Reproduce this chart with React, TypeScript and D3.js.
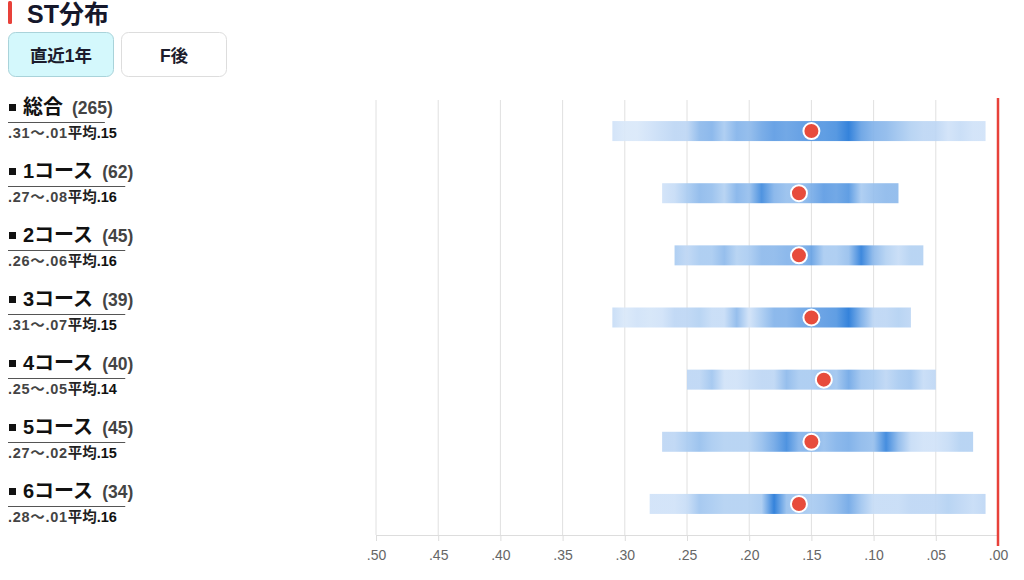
import React, { useEffect, useRef } from "react";
import * as d3 from "d3";

const courseNames = ["総合", "1コース", "2コース", "3コース", "4コース", "5コース", "6コース"];
const courseCounts = [265, 62, 45, 39, 40, 45, 34];
const stSlowest = [0.31, 0.27, 0.26, 0.31, 0.25, 0.27, 0.28];
const stFastest = [0.01, 0.08, 0.06, 0.07, 0.05, 0.02, 0.01];
const stAverage = [0.15, 0.16, 0.16, 0.15, 0.14, 0.15, 0.16];

// relative density per 0.01 step, from slowest to fastest
const densityAll = [0.1, 0.05, 0.05, 0.1, 0.15, 0.2, 0.2, 0.45, 0.5, 0.3, 0.5, 0.45, 0.6, 0.7, 0.65, 0.7, 0.75, 0.75, 0.8, 1.0, 0.65, 0.5, 0.45, 0.35, 0.25, 0.2, 0.2, 0.1, 0.15, 0.1, 0.1];
const density1 = [0.1, 0.15, 0.3, 0.45, 0.4, 0.25, 0.5, 0.4, 0.85, 0.5, 0.4, 0.4, 0.55, 0.7, 0.65, 0.75, 0.3, 0.4, 0.45, 0.45];
const density2 = [0.3, 0.2, 0.3, 0.3, 0.45, 0.25, 0.3, 0.45, 0.45, 0.5, 0.5, 0.65, 0.3, 0.3, 0.4, 0.95, 0.45, 0.25, 0.15, 0.25, 0.25];
const density3 = [0.15, 0.05, 0.1, 0.08, 0.1, 0.2, 0.2, 0.25, 0.15, 0.15, 0.45, 0.1, 0.3, 0.5, 0.5, 0.6, 0.65, 0.7, 0.75, 1.0, 0.55, 0.2, 0.2, 0.25, 0.2];
const density4 = [0.2, 0.2, 0.35, 0.1, 0.1, 0.15, 0.2, 0.2, 0.45, 0.3, 0.3, 0.4, 0.35, 0.6, 0.35, 0.3, 0.2, 0.3, 0.35, 0.15, 0.2];
const density5 = [0.2, 0.2, 0.3, 0.4, 0.3, 0.25, 0.25, 0.25, 0.4, 0.6, 0.85, 0.5, 0.5, 0.4, 0.5, 0.55, 0.45, 0.4, 0.9, 0.45, 0.15, 0.1, 0.1, 0.15, 0.25, 0.25];
const density6 = [0.1, 0.1, 0.1, 0.15, 0.35, 0.3, 0.25, 0.25, 0.25, 0.3, 1.0, 0.4, 0.35, 0.3, 0.35, 0.45, 0.6, 0.35, 0.15, 0.15, 0.15, 0.2, 0.2, 0.2, 0.25, 0.2, 0.15, 0.2];
const densities = [densityAll, density1, density2, density3, density4, density5, density6];

const axisTicks = [0.5, 0.45, 0.4, 0.35, 0.3, 0.25, 0.2, 0.15, 0.1, 0.05, 0.0];
const tabLabels = ["直近1年", "F後"];

const FONT = "'Liberation Sans', Arial, 'Noto Sans CJK JP', sans-serif";
const fmt = (v: number) => d3.format(".2f")(v).replace(/^0/, "");

export default function App() {
  const ref = useRef<SVGSVGElement | null>(null);

  useEffect(() => {
    const svg = d3.select(ref.current);
    svg.selectAll("*").remove();

    const x = d3.scaleLinear().domain([0.5, 0]).range([376, 998]);
    const y = d3.scaleBand<string>().domain(courseNames).range([100, 535]);
    const color = d3.interpolateRgb("#e3eefb", "#2378d8");
    const defs = svg.append("defs");

    // title
    svg.append("rect").attr("x", 8).attr("y", 1).attr("width", 4).attr("height", 23).attr("rx", 1.5).attr("fill", "#e8413a");
    svg.append("text").attr("x", 27).attr("y", 22.5).attr("font-family", FONT).attr("font-size", 25)
      .attr("font-weight", "bold").attr("fill", "#15172b").text("ST分布");

    // tabs
    tabLabels.forEach((t, i) => {
      const bx = 8 + i * 113;
      svg.append("rect").attr("x", bx + 0.5).attr("y", 32.5).attr("width", 105).attr("height", 44).attr("rx", 7)
        .attr("fill", i === 0 ? "#d4f8fc" : "#ffffff").attr("stroke", i === 0 ? "#a9d3da" : "#dddddd");
      svg.append("text").attr("x", bx + 53).attr("y", 61.5).attr("text-anchor", "middle").attr("font-family", FONT)
        .attr("font-size", 17.5).attr("font-weight", "bold").attr("fill", "#1c1c2c").text(t);
    });

    // grid
    const g = svg.append("g");
    g.selectAll("line.grid").data(axisTicks).join("line").attr("class", "grid")
      .attr("x1", (d) => x(d)).attr("x2", (d) => x(d)).attr("y1", 100).attr("y2", 535)
      .attr("stroke", "#e0e0e0").attr("stroke-width", 1);
    const axis = d3.axisBottom(x).tickValues(axisTicks).tickFormat((d) => fmt(+d)).tickSize(6).tickSizeOuter(0);
    const ag = svg.append("g").attr("transform", "translate(0,535)").call(axis);
    ag.select(".domain").attr("stroke", "#dddddd");
    ag.selectAll(".tick line").attr("stroke", "#dddddd");
    ag.selectAll(".tick text").attr("font-family", FONT).attr("font-size", 14).attr("fill", "#666").attr("dy", "1.15em");

    // bars
    courseNames.forEach((name, i) => {
      const dens = densities[i];
      const gid = "grad" + i;
      const grad = defs.append("linearGradient").attr("id", gid).attr("x1", "0%").attr("x2", "100%").attr("y1", "0%").attr("y2", "0%");
      dens.forEach((v, j) => {
        grad.append("stop").attr("offset", (j / (dens.length - 1)) * 100 + "%").attr("stop-color", color(v));
      });
      const cy = (y(name) as number) + y.bandwidth() / 2;
      svg.append("rect").attr("x", x(stSlowest[i])).attr("y", cy - 10).attr("width", x(stFastest[i]) - x(stSlowest[i]))
        .attr("height", 20).attr("fill", `url(#${gid})`).attr("opacity", 0.92);
      svg.append("circle").attr("cx", x(stAverage[i])).attr("cy", cy).attr("r", 8)
        .attr("fill", "#e74c3c").attr("stroke", "#ffffff").attr("stroke-width", 2);
    });

    // zero line
    svg.append("line").attr("x1", x(0)).attr("x2", x(0)).attr("y1", 98).attr("y2", 546)
      .attr("stroke", "#e8413a").attr("stroke-width", 2.5);

    // labels
    courseNames.forEach((name, i) => {
      const base = 114 + i * 64;
      svg.append("rect").attr("x", 9).attr("y", base - 10).attr("width", 7).attr("height", 7).attr("fill", "#111");
      const t = svg.append("text").attr("x", 23).attr("y", base).attr("font-family", FONT).attr("font-weight", "bold");
      t.append("tspan").attr("font-size", 20).attr("fill", "#111").text(name);
      t.append("tspan").attr("font-size", 17.5).attr("fill", "#444").attr("dx", 9).text(`(${courseCounts[i]})`);
      const w = (t.node() as SVGTextElement).getComputedTextLength();
      svg.append("line").attr("x1", 8).attr("x2", 23 + w + 1).attr("y1", base + 8.5).attr("y2", base + 8.5)
        .attr("stroke", "#555").attr("stroke-width", 1);
      const s = svg.append("text").attr("x", 8).attr("y", base + 24).attr("font-family", FONT).attr("font-weight", "bold");
      s.append("tspan").attr("font-size", 14.5).attr("letter-spacing", 0.7).attr("fill", "#444").text(`${fmt(stSlowest[i])}〜${fmt(stFastest[i])}`);
      s.append("tspan").attr("font-size", 14.5).attr("fill", "#222").text("平均");
      s.append("tspan").attr("font-size", 14.5).attr("fill", "#111").text(fmt(stAverage[i]));
    });
  }, []);

  return (
    <svg ref={ref} width={1024} height={580} style={{ position: "absolute", left: 0, top: 0, background: "#fff" }} />
  );
}
